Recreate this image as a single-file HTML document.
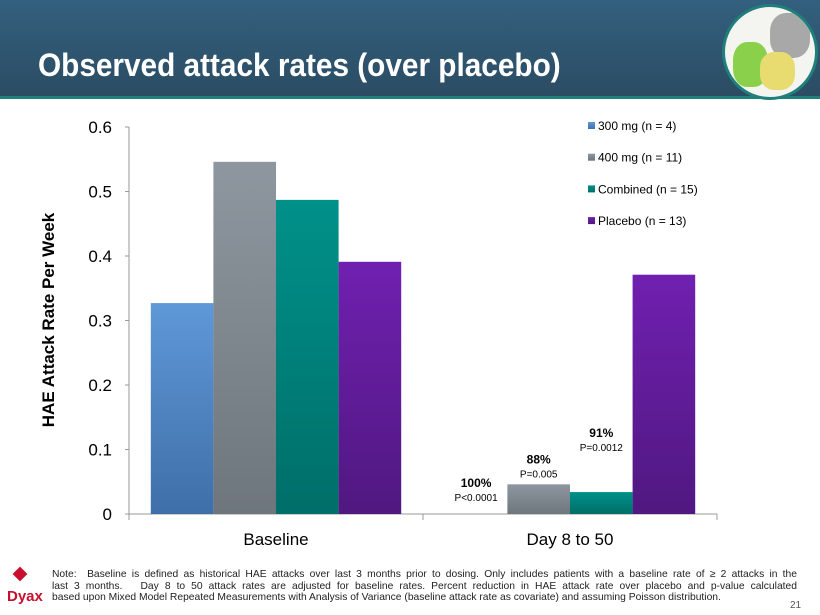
<!DOCTYPE html>
<html><head><meta charset="utf-8"><style>
body{margin:0;width:820px;height:615px;overflow:hidden;background:#fff;font-family:"Liberation Sans",sans-serif;position:relative}
#hdr{position:absolute;left:0;top:0;width:820px;height:96px;background:linear-gradient(#33607f,#2b4c63)}
#line{position:absolute;left:0;top:96px;width:820px;height:3px;background:#1f7f7a}
#title{position:absolute;left:38px;top:47px;color:#fff;font-size:32px;font-weight:bold;transform:scaleX(0.93);transform-origin:left;white-space:nowrap}
#logo{position:absolute;left:722px;top:4px;width:90px;height:90px;border-radius:50%;background:#f4f4f0;border:3px solid #1f7f7a;overflow:hidden}
#logo i{position:absolute;border-radius:40%}
#note{position:absolute;left:52px;top:569px;width:745px;font-size:10.3px;line-height:11.6px;color:#222}
#note div{text-align:justify;text-align-last:justify;white-space:nowrap}
#note div.last{text-align-last:left}
#dyax{position:absolute;left:7px;top:588px;color:#c8102e;font-weight:bold;font-size:15px}
#dmark{position:absolute;left:13px;top:567px;width:14px;height:14px;background:#c8102e;transform:rotate(45deg) scale(.75)}
#pg{position:absolute;left:790px;top:600px;font-size:10px;color:#555}
</style></head><body>
<div id="hdr"></div>
<div id="line"></div>
<div id="title">Observed attack rates (over placebo)</div>
<div id="logo">
<i style="left:45px;top:6px;width:40px;height:45px;background:#a8a8a8"></i>
<i style="left:8px;top:35px;width:35px;height:45px;background:#8ad04a"></i>
<i style="left:35px;top:45px;width:35px;height:38px;background:#e8dc70"></i>
</div>
<svg id="chart" width="820" height="615" style="position:absolute;left:0;top:0">
<defs>
<linearGradient id="g0" x1="0" y1="0" x2="0" y2="1"><stop offset="0" stop-color="#5f98d8"/><stop offset="1" stop-color="#3f6fa8"/></linearGradient>
<linearGradient id="g1" x1="0" y1="0" x2="0" y2="1"><stop offset="0" stop-color="#8e979f"/><stop offset="1" stop-color="#6e767d"/></linearGradient>
<linearGradient id="g2" x1="0" y1="0" x2="0" y2="1"><stop offset="0" stop-color="#00918a"/><stop offset="1" stop-color="#006e69"/></linearGradient>
<linearGradient id="g3" x1="0" y1="0" x2="0" y2="1"><stop offset="0" stop-color="#7020b0"/><stop offset="1" stop-color="#501880"/></linearGradient>
</defs>
</svg>
<div id="dmark"></div>
<div id="dyax">Dyax</div>
<div id="note">
<div>Note:&nbsp; Baseline is defined as historical HAE attacks over last 3 months prior to dosing. Only includes patients with a baseline rate of ≥ 2 attacks in the</div>
<div>last 3 months.&nbsp;&nbsp; Day 8 to 50 attack rates are adjusted for baseline rates. Percent reduction in HAE attack rate over placebo and p-value calculated</div>
<div class="last">based upon Mixed Model Repeated Measurements with Analysis of Variance (baseline attack rate as covariate) and assuming Poisson distribution.</div>
</div>
<div id="pg">21</div>
<script>
const categories=["Baseline","Day 8 to 50"];
const seriesNames=["300 mg (n = 4)","400 mg (n = 11)","Combined (n = 15)","Placebo (n = 13)"];
const s300=[0.327,0];
const s400=[0.546,0.046];
const sCombined=[0.487,0.034];
const sPlacebo=[0.391,0.371];
const yTicks=[0,0.1,0.2,0.3,0.4,0.5,0.6];
const pctLabels=["100%","88%","91%"];
const pLabels=["P<0.0001","P=0.005","P=0.0012"];
const labelGap=[-2,-8,26];
const series=[s300,s400,sCombined,sPlacebo];
const svg=document.getElementById('chart');
const NS='http://www.w3.org/2000/svg';
const X0=129,X1=717,Y0=514,Y1=127,YMAX=0.6;
const y=v=>Y0-(v/YMAX)*(Y0-Y1);
const groupW=(X1-X0)/categories.length, barW=62.6, gpad=(groupW-4*barW)/2;
const bx=(c,s)=>X0+c*groupW+gpad+s*barW;
function mk(t,a){const e=document.createElementNS(NS,t);for(const k in a)e.setAttribute(k,a[k]);svg.appendChild(e);return e;}
let e;
e=mk('line',{x1:X0,y1:Y1,x2:X0,y2:Y0,stroke:'#999'});

e=mk('line',{x1:X0,y1:Y0,x2:X1,y2:Y0,stroke:'#999'});

yTicks.forEach(t=>{
 mk('line',{x1:X0-4,y1:y(t),x2:X0,y2:y(t),stroke:'#999'});
 e=mk('text',{x:X0-17,y:y(t)+6,'text-anchor':'end','font-size':17,fill:'#000'});e.textContent=String(t);
 
});
for(let c=0;c<=categories.length;c++)mk('line',{x1:X0+c*groupW,y1:Y0,x2:X0+c*groupW,y2:Y0+6,stroke:'#999'});
categories.forEach((cat,c)=>{
 e=mk('text',{x:X0+(c+0.5)*groupW,y:545,'text-anchor':'middle','font-size':17,fill:'#000'});e.textContent=cat;
 
 series.forEach((s,i)=>{
  if(s[c]<=0)return;
  e=mk('rect',{x:bx(c,i),y:y(s[c]),width:barW,height:Y0-y(s[c]),fill:'url(#g'+i+')'});
  
 });
});
e=mk('text',{x:0,y:0,'font-size':17,'font-weight':'bold',transform:'translate(54,320) rotate(-90)','text-anchor':'middle'});
e.textContent='HAE Attack Rate Per Week';
pctLabels.forEach((p,i)=>{
 const v=series[i][1];const cx=bx(1,i)+barW/2;const top=y(v)-15-labelGap[i];
 e=mk('text',{x:cx,y:top-14,'text-anchor':'middle','font-size':12,'font-weight':'bold'});e.textContent=p;
 
 e=mk('text',{x:cx,y:top,'text-anchor':'middle','font-size':10});e.textContent=pLabels[i];
 
});
seriesNames.forEach((n,i)=>{
 const ly=126+i*31.7;
 e=mk('rect',{x:588,y:ly-4,width:7,height:7,fill:'url(#g'+i+')'});
 
 e=mk('text',{x:598,y:ly+4,'font-size':12});e.textContent=n;
 
});
</script>
</body></html>
